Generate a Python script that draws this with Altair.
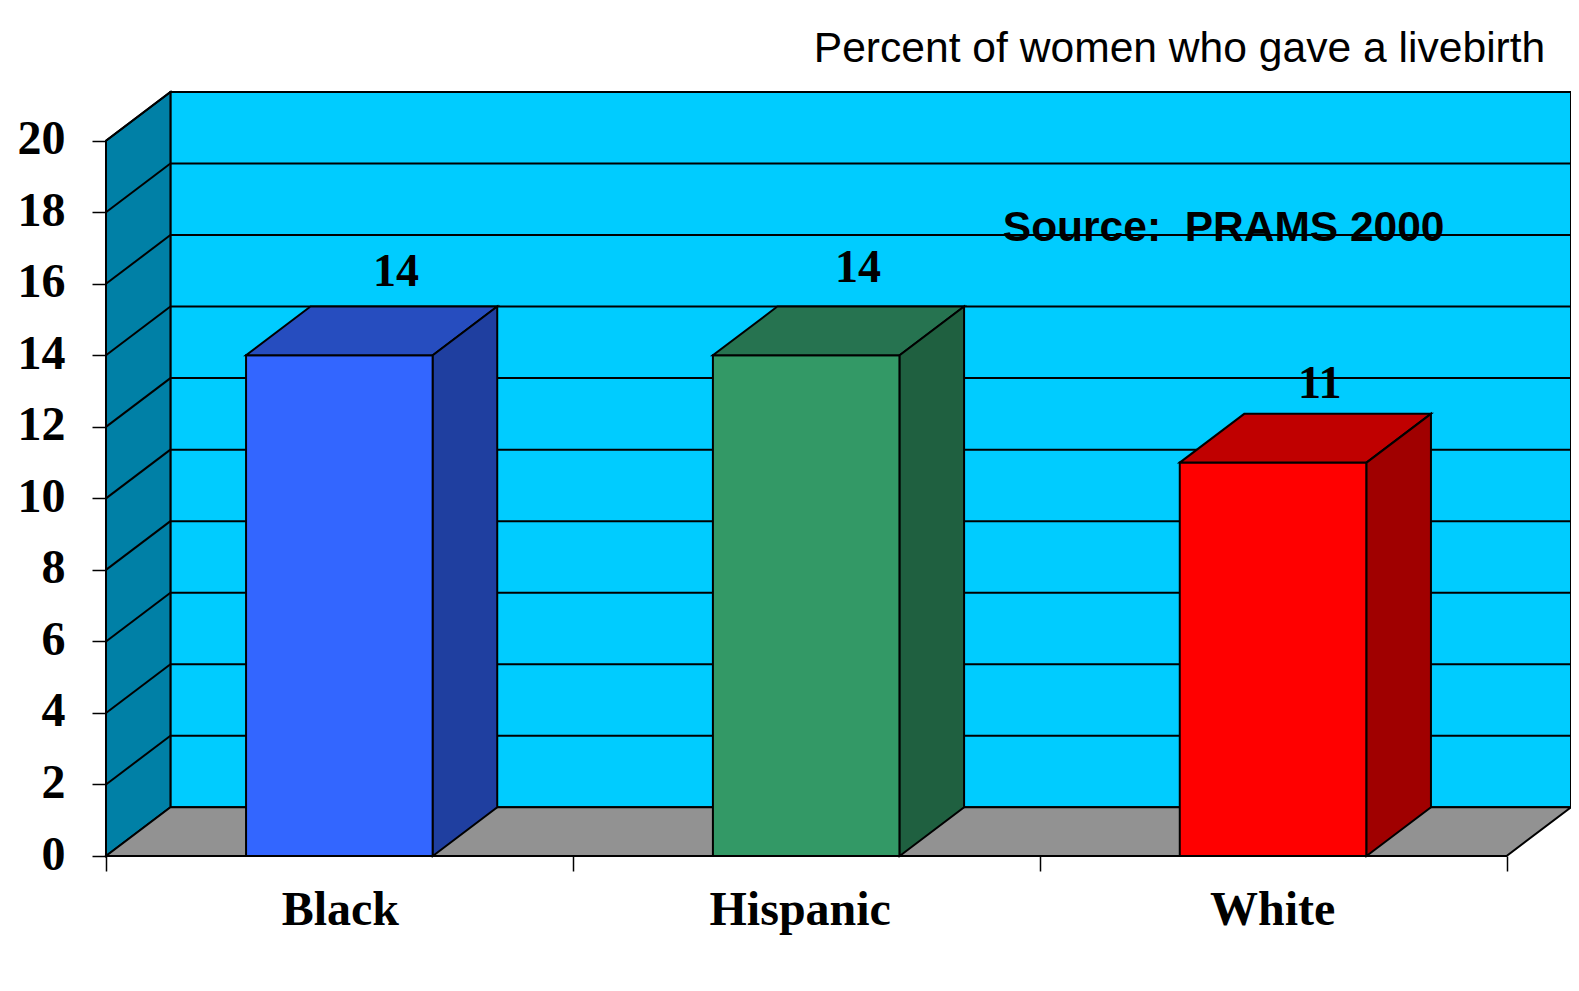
import altair as alt
import pandas as pd

categories = ["Black", "Hispanic", "White"]
values = [14, 14, 11]
front = ["#3366FF", "#339966", "#FF0000"]
side = ["#1F3FA0", "#1F6040", "#A00000"]
top = ["#264DBF", "#267350", "#C00000"]
grid_values = list(range(2, 21, 2))
y_ticks = list(range(0, 21, 2))
x_ticks = [0, 1, 2, 3]

# depth of the 3-D box, in axis units
DX = 0.138
DY = 1.363
BAR_L, BAR_R = 0.3, 0.7
X_DOM = [0, 3 + DX]
Y_DOM = [0, 20 + DY]

# annotation anchors, in axis units
cat_x = [0.502, 1.487, 2.499]
val_x = [0.621, 1.611, 2.600]
val_y = [16.33, 16.45, 13.19]

SERIF = "Liberation Serif"
SANS = "Liberation Sans"
LW = 2

X_AXIS = alt.Axis(values=x_ticks, labels=False, title=None, domain=False, grid=False,
                  tickSize=15, tickColor="black", tickWidth=1.5)
Y_AXIS = alt.Axis(values=y_ticks, title=None, domain=False, grid=False, tickSize=14,
                  tickColor="black", tickWidth=1.5, labelFont=SERIF, labelFontWeight="bold",
                  labelFontSize=48, labelColor="black", labelPadding=27, labelOffset=-1)

X = lambda f: alt.X(f, type="quantitative", scale=alt.Scale(domain=X_DOM, nice=False, zero=False), axis=X_AXIS)
Y = lambda f: alt.Y(f, type="quantitative", scale=alt.Scale(domain=Y_DOM, nice=False, zero=False), axis=Y_AXIS)
FILL = alt.Color("c:N", scale=None)

wall = alt.Chart(pd.DataFrame({"x": [DX], "x2": [3 + DX], "y": [DY], "y2": [20 + DY]})).mark_rect(
    fill="#00CCFF", stroke="black", strokeWidth=LW
).encode(x=X("x"), x2="x2:Q", y=Y("y"), y2="y2:Q")

left_wall = alt.Chart(pd.DataFrame({"x": [0, DX], "y": [0, DY], "y2": [20, 20 + DY]})).mark_area(
    orient="vertical", fill="#0080A6", stroke="black", strokeWidth=LW
).encode(x=X("x"), y=Y("y"), y2="y2:Q")

floor = alt.Chart(pd.DataFrame({"y": [0, DY], "x": [0, DX], "x2": [3, 3 + DX]})).mark_area(
    orient="horizontal", fill="#929292", stroke="black", strokeWidth=LW
).encode(y=Y("y"), x=X("x"), x2="x2:Q")

grid_rows = []
for v in grid_values:
    grid_rows.append({"x": DX, "x2": 3 + DX, "y": v + DY, "y2": v + DY})
    grid_rows.append({"x": 0, "x2": DX, "y": v, "y2": v + DY})
grid = alt.Chart(pd.DataFrame(grid_rows)).mark_rule(color="black", strokeWidth=LW).encode(
    x=X("x"), x2="x2:Q", y=Y("y"), y2="y2:Q"
)

front_rows, top_rows, side_rows = [], [], []
for i, (cat, v) in enumerate(zip(categories, values)):
    l, r = i + BAR_L, i + BAR_R
    front_rows.append({"cat": cat, "x": l, "x2": r, "y": 0, "y2": v, "c": front[i]})
    top_rows += [
        {"cat": cat, "y": v, "x": l, "x2": r, "c": top[i]},
        {"cat": cat, "y": v + DY, "x": l + DX, "x2": r + DX, "c": top[i]},
    ]
    side_rows += [
        {"cat": cat, "x": r, "y": 0, "y2": v, "c": side[i]},
        {"cat": cat, "x": r + DX, "y": DY, "y2": v + DY, "c": side[i]},
    ]

bar_front = alt.Chart(pd.DataFrame(front_rows)).mark_rect(stroke="black", strokeWidth=LW).encode(
    x=X("x"), x2="x2:Q", y=Y("y"), y2="y2:Q", color=FILL
)
bar_top = alt.Chart(pd.DataFrame(top_rows)).mark_area(orient="horizontal", stroke="black", strokeWidth=LW).encode(
    y=Y("y"), x=X("x"), x2="x2:Q", color=FILL, detail="cat:N"
)
bar_side = alt.Chart(pd.DataFrame(side_rows)).mark_area(orient="vertical", stroke="black", strokeWidth=LW).encode(
    x=X("x"), y=Y("y"), y2="y2:Q", color=FILL, detail="cat:N"
)

value_labels = alt.Chart(pd.DataFrame({"x": val_x, "y": val_y, "t": [str(v) for v in values]})).mark_text(
    font=SERIF, fontWeight="bold", fontSize=46, color="black", align="center", baseline="middle"
).encode(x=X("x"), y=Y("y"), text="t:N")

cat_labels = alt.Chart(pd.DataFrame({"x": cat_x, "y": [0, 0, 0], "t": categories})).mark_text(
    font=SERIF, fontWeight="bold", fontSize=48, color="black", align="center", baseline="middle", dy=55
).encode(x=X("x"), y=Y("y"), text="t:N")

source = alt.Chart(pd.DataFrame({"x": [2.394], "y": [17.55], "t": ["Source:\u00a0\u00a0PRAMS 2000"]})).mark_text(
    font=SANS, fontWeight="bold", fontSize=42.5, color="black", align="center", baseline="middle"
).encode(x=X("x"), y=Y("y"), text="t:N")

subtitle = alt.Chart(pd.DataFrame({"x": [3.083], "y": [22.57], "t": ["Percent of women who gave a livebirth"]})).mark_text(
    font=SANS, fontSize=42.6, color="black", align="right", baseline="middle"
).encode(x=X("x"), y=Y("y"), text="t:N")

chart = alt.layer(
    wall, left_wall, floor, grid, bar_front, bar_top, bar_side, value_labels, cat_labels, source, subtitle
).properties(
    width=1465,
    height=764,
    padding={"left": 98, "top": 84, "right": 0, "bottom": 118},
    autosize=alt.AutoSizeParams(type="none"),
    background="white",
).configure_view(stroke=None)

chart.save("out.html", embed_options={"renderer": "svg", "actions": False})
